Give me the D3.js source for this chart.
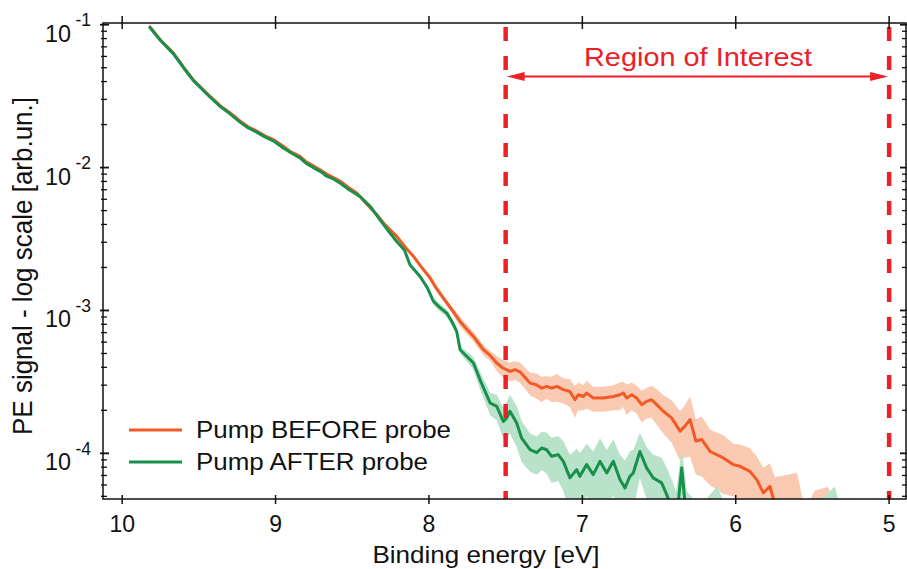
<!DOCTYPE html>
<html>
<head>
<meta charset="utf-8">
<script src="https://cdn.jsdelivr.net/npm/d3@7"></script>
<style>
	body { margin: 0; background: #fff; }
	text { font-family: "Liberation Sans", Arial, sans-serif; fill: #111; }
</style>
</head>
<body>
<svg id="chart" width="907" height="569"></svg>
<script>
// Pump BEFORE probe (orange)
const energyBefore = [9.824, 9.75, 9.667, 9.60, 9.537, 9.428, 9.36, 9.297, 9.232, 9.18, 9.123, 9.07, 9.015,
	8.95, 8.90, 8.841, 8.80, 8.754, 8.70, 8.667, 8.62, 8.58, 8.52, 8.471, 8.40, 8.341, 8.28, 8.21, 8.15, 8.102, 8.05,
	7.993, 7.95, 7.906, 7.85, 7.797, 7.75, 7.71, 7.645, 7.60, 7.558, 7.52, 7.472, 7.44, 7.407, 7.37, 7.341, 7.30,
	7.265, 7.233, 7.20, 7.167, 7.124, 7.081, 7.048, 7.027, 6.994, 6.972, 6.929, 6.863, 6.798, 6.755, 6.733, 6.711,
	6.678, 6.646, 6.613, 6.581, 6.548, 6.515, 6.472, 6.418, 6.363, 6.331, 6.298, 6.26, 6.222, 6.167, 6.081, 6.016,
	5.972, 5.907, 5.863, 5.82, 5.777, 5.744, 5.679, 5.601, 5.549, 5.484, 5.40, 5.335];
const signalBefore = [0.098, 0.0782, 0.0635, 0.0505, 0.0412, 0.0316, 0.0270, 0.0242, 0.0212, 0.0193, 0.0180, 0.0167, 0.0157,
	0.0141, 0.01288, 0.0120, 0.01096, 0.0103, 0.0095, 0.0090, 0.00847, 0.00805, 0.00721, 0.00665, 0.00548, 0.0047, 0.00391,
	0.0033, 0.00274, 0.0024, 0.00202, 0.00169, 0.00142, 0.00122, 0.00101, 0.000838, 0.000733, 0.000658, 0.000531, 0.000482,
	0.000429, 0.000397, 0.000374, 0.000385, 0.000372, 0.000337, 0.00031, 0.000302, 0.000286, 0.000294, 0.000286, 0.000294,
	0.000279, 0.000271, 0.000237, 0.000257, 0.00025, 0.000264, 0.000244, 0.000244, 0.00025, 0.000257, 0.000264, 0.000244,
	0.000257, 0.000244, 0.000219, 0.000231, 0.000237, 0.000219, 0.000197, 0.000177, 0.000143, 0.000155, 0.000172, 0.000122,
	0.000125, 0.000103, 0.0000929, 0.0000834, 0.0000811, 0.0000748, 0.0000655, 0.0000528, 0.0000588, 0.0000438, 0.000039,
	0.00004, 0.0000292, 0.0000344, 0.000035, 0.000029];
const errBefore = [0.015, 0.015, 0.015, 0.015, 0.015, 0.015, 0.015, 0.015, 0.015, 0.015, 0.015, 0.015, 0.015,
	0.02, 0.02, 0.02, 0.02, 0.02, 0.02, 0.02, 0.02, 0.02, 0.02, 0.02,
	0.03, 0.03, 0.03, 0.03, 0.03, 0.03, 0.03,
	0.05, 0.05, 0.05, 0.05,
	0.08, 0.08, 0.08, 0.08, 0.08,
	0.12, 0.14, 0.15, 0.15, 0.16, 0.17, 0.18,
	0.2, 0.2, 0.18, 0.2, 0.22, 0.2, 0.22, 0.25, 0.22, 0.2, 0.22, 0.2, 0.2,
	0.2, 0.22, 0.2, 0.24, 0.22, 0.22, 0.25, 0.24, 0.25, 0.28,
	0.3, 0.33, 0.38, 0.4, 0.45, 0.42, 0.45,
	0.42, 0.44, 0.4, 0.42, 0.45, 0.45, 0.5, 0.45, 0.55,
	0.8, 0.83, 0.4, 0.6, 0.66, 0.4];

// Pump AFTER probe (green)
const energyAfter = [9.824, 9.75, 9.667, 9.60, 9.537, 9.428, 9.36, 9.297, 9.232, 9.18, 9.123, 9.07, 9.015,
	8.95, 8.90, 8.841, 8.80, 8.754, 8.70, 8.667, 8.62, 8.58, 8.52, 8.449, 8.38, 8.319, 8.26, 8.21, 8.16, 8.124, 8.058,
	8.01, 7.971, 7.93, 7.884, 7.85, 7.819, 7.797, 7.71, 7.667, 7.601, 7.558, 7.515, 7.493, 7.472, 7.428, 7.396, 7.341,
	7.298, 7.265, 7.233, 7.20, 7.157, 7.124, 7.081, 7.037, 7.016, 6.972, 6.929, 6.885, 6.841, 6.798, 6.755, 6.722, 6.69,
	6.668, 6.625, 6.581, 6.538, 6.483, 6.45, 6.415, 6.389, 6.352, 6.318, 6.233, 6.122, 6.039, 5.843, 5.582, 5.354, 5.29];
const signalAfter = [0.097, 0.0775, 0.0628, 0.0500, 0.0408, 0.0312, 0.0267, 0.0238, 0.0208, 0.0190, 0.0177, 0.0164, 0.0154,
	0.0137, 0.0127, 0.0117, 0.0107, 0.0100, 0.0093, 0.0087, 0.0083, 0.0078, 0.0070, 0.00627, 0.00531, 0.00431, 0.00355,
	0.00304, 0.00265, 0.00209, 0.00173, 0.00144, 0.00116, 0.00105, 0.000959, 0.000834, 0.000713, 0.000531, 0.000429,
	0.000327, 0.000225, 0.000213, 0.000167, 0.000177, 0.000197, 0.000163, 0.000128, 0.000106, 0.000101, 0.000109, 0.000106,
	0.0000953, 0.000098, 0.0000879, 0.0000673, 0.0000769, 0.000069, 0.0000834, 0.000071, 0.0000879, 0.0000729, 0.0000879,
	0.0000655, 0.0000573, 0.000069, 0.0000729, 0.000103, 0.0000791, 0.0000673, 0.0000621, 0.0000514, 0.0000404, 0.0000317,
	0.0000791, 0.0000317, 0.0000317, 0.0000344, 0.000029, 0.000027, 0.000027, 0.0000344, 0.000025];
const errAfter = [0.015, 0.015, 0.015, 0.015, 0.015, 0.015, 0.015, 0.015, 0.015, 0.015, 0.015, 0.015, 0.015,
	0.015, 0.015, 0.015, 0.015, 0.015, 0.015, 0.015, 0.015, 0.015, 0.015,
	0.03, 0.03, 0.03, 0.03, 0.03, 0.03, 0.03, 0.03, 0.03,
	0.06, 0.06, 0.06, 0.06, 0.06, 0.06,
	0.1, 0.14, 0.18, 0.2,
	0.25, 0.3, 0.3, 0.32, 0.32, 0.3, 0.3, 0.3, 0.32, 0.35, 0.35, 0.38,
	0.45, 0.4, 0.45, 0.4, 0.45, 0.45, 0.45, 0.42, 0.5, 0.55, 0.5, 0.45, 0.35, 0.4, 0.45, 0.5, 0.55,
	0.6, 0.7, 0.35, 0.7, 0.35, 0.7, 0.3, 0.3, 0.3, 0.7, 0.3];

const xTicks = [10, 9, 8, 7, 6, 5];
const roiBounds = [7.5, 5.0];
const legendLabels = ['Pump BEFORE probe', 'Pump AFTER probe'];

const ORANGE = '#f15a24';
const ORANGE_BAND = '#f9c9b1';
const GREEN = '#16904a';
const GREEN_BAND = '#b9e2cb';
const RED = '#ec2027';

const svg = d3.select('#chart');
const M = { left: 103, right: 906, top: 23, bottom: 499 };

const x = d3.scaleLinear().domain([10.125, 4.89]).range([M.left, M.right]);
const y = d3.scaleLog().domain([4.79e-5, 0.1028]).range([M.bottom, M.top]);

svg.append('defs').append('clipPath').attr('id', 'plot')
	.append('rect').attr('x', M.left).attr('y', M.top)
	.attr('width', M.right - M.left).attr('height', M.bottom - M.top);

function toRows(energy, signal, err) {
	return energy.map((e, i) => ({
		e: e,
		v: signal[i],
		hi: signal[i] * (1 + err[i]),
		lo: Math.max(signal[i] * (1 - err[i]), 1e-7)
	}));
}

function drawBand(rows, band) {
	svg.append('g').attr('clip-path', 'url(#plot)')
		.append('path').datum(rows)
		.attr('d', d3.area().x(d => x(d.e)).y0(d => y(d.lo)).y1(d => y(d.hi)))
		.attr('fill', band);
}

const before = toRows(energyBefore, signalBefore, errBefore);
const after = toRows(energyAfter, signalAfter, errAfter);

drawBand(before, ORANGE_BAND);
drawBand(after, GREEN_BAND);

const lineGen = d3.line().x(d => x(d.e)).y(d => y(d.v));
const lines = svg.append('g').attr('clip-path', 'url(#plot)');
lines.append('path').datum(before).attr('d', lineGen)
	.attr('fill', 'none').attr('stroke', ORANGE).attr('stroke-width', 3).attr('stroke-linejoin', 'round');
lines.append('path').datum(after).attr('d', lineGen)
	.attr('fill', 'none').attr('stroke', GREEN).attr('stroke-width', 3).attr('stroke-linejoin', 'round');

/* -------------------- Region of interest ---------------------- */
svg.selectAll('line.roi').data(roiBounds).enter().append('line')
	.attr('class', 'roi')
	.attr('x1', d => x(d)).attr('x2', d => x(d))
	.attr('y1', 27).attr('y2', M.bottom)
	.attr('stroke', RED).attr('stroke-width', 4.5).attr('stroke-dasharray', '14,15');

const ay = 76.5, xa = x(roiBounds[0]) + 1, xb = x(roiBounds[1]) - 1;
svg.append('line').attr('x1', xa + 10).attr('x2', xb - 10).attr('y1', ay).attr('y2', ay)
	.attr('stroke', RED).attr('stroke-width', 2);
svg.append('path').attr('d', `M${xa},${ay} L${xa + 18},${ay - 4.5} L${xa + 18},${ay + 4.5} Z`).attr('fill', RED);
svg.append('path').attr('d', `M${xb},${ay} L${xb - 18},${ay - 4.5} L${xb - 18},${ay + 4.5} Z`).attr('fill', RED);
svg.append('text').attr('x', 698).attr('y', 65.5).attr('text-anchor', 'middle')
	.attr('font-size', 25).attr('textLength', 228).attr('lengthAdjust', 'spacingAndGlyphs')
	.style('fill', RED).text('Region of Interest');

/* -------------------- Axes ---------------------- */
const axes = svg.append('g').attr('stroke', '#111').attr('stroke-width', 1.5);
axes.append('rect').attr('x', M.left).attr('y', M.top)
	.attr('width', M.right - M.left).attr('height', M.bottom - M.top)
	.attr('fill', 'none');

xTicks.forEach(t => {
	axes.append('line').attr('x1', x(t)).attr('x2', x(t)).attr('y1', M.bottom - 4).attr('y2', M.bottom + 5);
	axes.append('line').attr('x1', x(t)).attr('x2', x(t)).attr('y1', M.top - 7).attr('y2', M.top + 6);
	svg.append('text').attr('x', x(t)).attr('y', 531.5).attr('text-anchor', 'middle')
		.attr('font-size', 23).text(t);
});

y.ticks().forEach(t => {
	const exp = Math.round(Math.log10(t));
	const major = Math.abs(Math.log10(t) - exp) < 1e-6;
	const py = y(t);
	axes.append('line').attr('x1', M.left - (major ? 3 : 2)).attr('x2', M.left + (major ? 6 : 4))
		.attr('y1', py).attr('y2', py).attr('stroke-width', major ? 1.8 : 1.3);
	axes.append('line').attr('x1', M.right - (major ? 6 : 4)).attr('x2', M.right + 3)
		.attr('y1', py).attr('y2', py).attr('stroke-width', major ? 1.8 : 1.3);
	if (major) {
		svg.append('text').attr('x', 71).attr('y', py + 17).attr('text-anchor', 'end')
			.attr('font-size', 23).attr('textLength', 26).attr('lengthAdjust', 'spacingAndGlyphs').text('10');
		svg.append('text').attr('x', 75.5).attr('y', py + 1.5)
			.attr('font-size', 17.5).text(`-${-exp}`);
	}
});

svg.append('text').attr('x', 486).attr('y', 563).attr('text-anchor', 'middle')
	.attr('font-size', 24).attr('textLength', 227).attr('lengthAdjust', 'spacingAndGlyphs')
	.text('Binding energy [eV]');

svg.append('text').attr('transform', 'translate(31.5,266) rotate(-90)').attr('text-anchor', 'middle')
	.attr('font-size', 27).attr('textLength', 338).attr('lengthAdjust', 'spacingAndGlyphs')
	.text('PE signal - log scale [arb.un.]');

/* -------------------- Legend ---------------------- */
const legendColors = [ORANGE, GREEN];
const legendWidths = [255, 232];
legendLabels.forEach((label, i) => {
	const ly = 430 + i * 32;
	svg.append('line').attr('x1', 129).attr('x2', 182).attr('y1', ly).attr('y2', ly)
		.attr('stroke', legendColors[i]).attr('stroke-width', 3);
	svg.append('text').attr('x', 196).attr('y', ly + 7.5)
		.attr('font-size', 23).attr('textLength', legendWidths[i]).attr('lengthAdjust', 'spacingAndGlyphs')
		.text(label);
});
</script>
</body>
</html>
